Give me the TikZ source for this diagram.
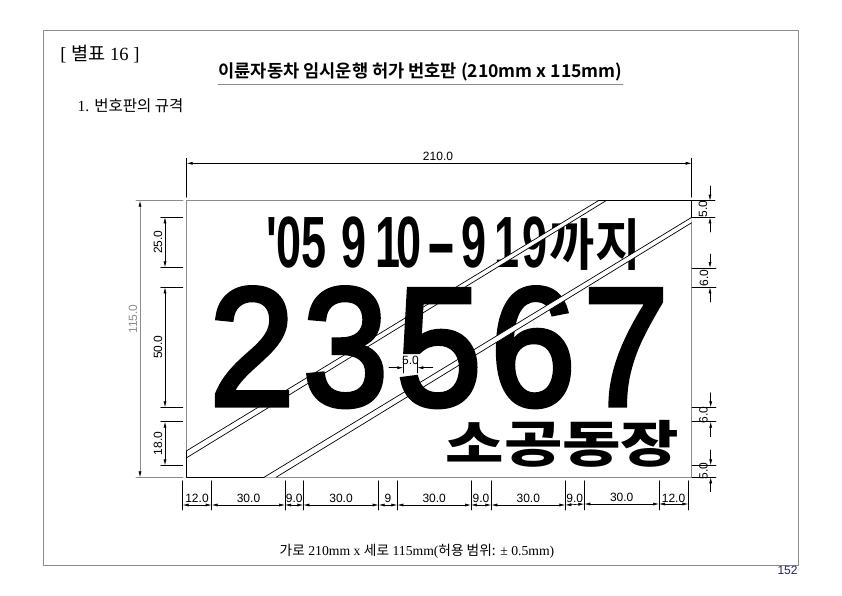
\documentclass[tikz,border=0pt]{standalone}
\usepackage{fontspec}
\usepackage{tkz-euclide}
\usetikzlibrary{arrows.meta,calc}
\setmainfont{Liberation Serif}
\setsansfont{Liberation Sans}
\newfontfamily\krfont{Noto Sans CJK KR}
\newfontfamily\krbold{Noto Sans CJK KR Bold}
\newfontfamily\krblack{Noto Sans CJK KR Black}
\newfontfamily\plate{Liberation Sans Bold}
\newfontfamily\platenum{Liberation Sans}[FakeBold=3]
\definecolor{FrameClr}{gray}{0.55}
\definecolor{NoteClr}{rgb}{0.1,0.15,0.45}
\tikzset{
  dimline/.style={line width=.6pt,color=black,{Latex[length=6pt,width=3pt]}-{Latex[length=6pt,width=3pt]}},
  dimhalf/.style={line width=.6pt,color=black,-{Latex[length=6pt,width=3pt]}},
  extline/.style={line width=.6pt,color=black},
  dimtxt/.style={inner sep=0pt,font=\sffamily\fontsize{12}{12}\selectfont},
  bigdigit/.style={inner sep=0pt,anchor=base,xscale=.91,font=\platenum\fontsize{168.5}{168.5}\selectfont},
}

\begin{document}
\begin{tikzpicture}[x=1pt,y=-1pt]
\useasboundingbox (0,0) rectangle (842,595);
\tkzDefPoints{43/30/F1,798/30/F2,798/565/F3,43/565/F4,218/84/U1,623/84/U2}
\tkzDefPoints{186.7/200.7/P1,691.7/200.7/P2,691.7/477.3/P3,186.7/477.3/P4}
% bands
\tkzDefPoints{186.7/450.7/A1,186.7/457.7/A2,606/200.7/A3,598.3/200.7/A4}
\tkzDefPoints{264/477.3/B1,276/477.3/B2,691.7/222.7/B3,691.7/217.3/B4}

\tkzDrawPolygon[line width=.8pt,color=FrameClr](F1,F2,F3,F4)
\tkzDrawSegment[line width=.6pt,color=FrameClr](U1,U2)

\node (Sheet) at (100,54) {\fontsize{18.6}{18.6}\selectfont [ {\krfont 별표} 16 ]};
\node (Title) at (420.5,72) {\krbold\fontsize{17.6}{17.6}\selectfont 이륜자동차 임시운행 허가 번호판 (210mm x 115mm)};
\node (Head) at (130.5,106) {\fontsize{15.5}{15.5}\selectfont 1. {\krfont 번호판의 규격}};
\node (Foot) at (417,551) {\fontsize{13.7}{13.7}\selectfont {\krfont 가로} 210mm x {\krfont 세로} 115mm({\krfont 허용 범위:} ± 0.5mm)};
\node[inner sep=0pt,text=NoteClr,font=\sffamily\fontsize{12}{12}\selectfont] (Page) at (787.5,570) {152};

% plate
\tkzDrawPolygon[line width=.7pt,color=FrameClr](P1,P2,P3,P4)
\node[inner sep=0pt,anchor=base west] (Small) at (266,267.3) {\plate\fontsize{72.6}{72.6}\selectfont\scalebox{.62}[1]{'05 \hspace{3pt}9 \hspace{-5.5pt}1\hspace{-6pt}0 \hspace{-12.4pt}\scalebox{2}[1]{-} \hspace{-12pt}9 \hspace{-7pt}1\hspace{4.8pt}9}\hspace{2pt}\raisebox{2pt}{\scalebox{.88}[1]{\krbold\fontsize{56}{56}\selectfont 까지}}};
\node[bigdigit] (D6) at (533,405.2) {6};
\tkzFillPolygon[fill=white](A1,A2,A3,A4)
\tkzFillPolygon[fill=white](B1,B2,B3,B4)
\tkzDrawSegments[line width=.7pt,color=black](A1,A4 A2,A3 B1,B4 B2,B3 A4,P2 P2,B4 P4,B1 A1,P4)
\node[bigdigit] (D2) at (252,405.2) {2};
\node[bigdigit] (D3) at (345.5,405.2) {3};
\node[bigdigit] (D5) at (439,405.2) {5};
\node[bigdigit] (D7) at (626,405.2) {7};
\node[inner sep=0pt,xscale=1.27] (Owner) at (562.5,444) {\krblack\fontsize{50}{50}\selectfont 소공동장};

% top and left dimensions
\tkzDefPoints{186.7/158.3/T1,186.7/197.3/T2,691.7/158.3/T3,691.7/197.3/T4,186.7/163.3/T5,691.7/163.3/T6}
\tkzDrawSegments[extline](T1,T2 T3,T4)
\tkzDrawSegment[dimline](T5,T6)
\node[dimtxt] (W) at (438,156) {210.0};

\tkzDefPoints{136/200.7/H1,183/200.7/H2,136/477.3/H3,183/477.3/H4,140/200.7/H5,140/477.3/H6}
\tkzDrawSegments[line width=.6pt,color=FrameClr](H1,H2 H3,H4)
\tkzDrawSegment[line width=.6pt,color=FrameClr,{Latex[length=6pt,width=3pt,black]}-{Latex[length=6pt,width=3pt,black]}](H5,H6)
\node[dimtxt,rotate=90,text=FrameClr] (H) at (133,319) {115.0};

\tkzDefPoints{160.7/217.3/L1,182.7/217.3/L2,160.7/267.3/L3,182.7/267.3/L4,160.7/287.3/L5,182.7/287.3/L6,160.7/407.3/L7,182.7/407.3/L8,160.7/421.7/L9,182.7/421.7/L10,160.7/465.3/L11,182.7/465.3/L12}
\tkzDefPoints{165/217.3/M1,165/267.3/M2,165/287.3/M3,165/407.3/M4,165/421.7/M5,165/465.3/M6}
\tkzDrawSegments[extline](L1,L2 L3,L4 L5,L6 L7,L8 L9,L10 L11,L12)
\tkzDrawSegments[dimline](M1,M2 M3,M4 M5,M6)
\node[dimtxt,rotate=90] (V1) at (158,242) {25.0};
\node[dimtxt,rotate=90] (V2) at (158,347) {50.0};
\node[dimtxt,rotate=90] (V3) at (158,443.5) {18.0};

% right dimensions
\tkzDefPoints{692/200.7/R1,715/200.7/R2,692/217.3/R3,715/217.3/R4,692/268/R5,716/268/R6,692/287.3/R7,716/287.3/R8,692/407.3/R9,716/407.3/R10,692/421.7/R11,716/421.7/R12,692/465.3/R13,716/465.3/R14,692/477.3/R15,716/477.3/R16}
\tkzDrawSegments[extline](R1,R2 R3,R4 R5,R6 R7,R8 R9,R10 R11,R12 R13,R14 R15,R16)
\tkzDefPoints{710/186/S1,710/200.7/S2,710/232/S3,710/217.3/S4,710/254/S5,710/268/S6,710/302/S7,710/287.3/S8,710.7/392.7/S9,710.7/407.3/S10,710.7/436.7/S11,710.7/421.7/S12,710.7/450/S13,710.7/465.3/S14,710.7/491.7/S15,710.7/477.3/S16}
\tkzDrawSegments[dimhalf](S1,S2 S3,S4 S5,S6 S7,S8 S9,S10 S11,S12 S13,S14 S15,S16)
\node[dimtxt,rotate=90] (E1) at (703,209) {5.0};
\node[dimtxt,rotate=90] (E2) at (704,278) {6.0};
\node[dimtxt,rotate=90] (E3) at (703.5,415) {6.0};
\node[dimtxt,rotate=90] (E4) at (703.5,471) {5.0};

% bottom dimensions
\tkzDefPoints{182.7/480.7/B01,182.7/510/C01,211.7/480.7/B02,211.7/510/C02,285/480.7/B03,285/510/C03,303.3/480.7/B04,303.3/510/C04,378.7/480.7/B05,378.7/510/C05,397.3/480.7/B06,397.3/510/C06,471/480.7/B07,471/510/C07,491.3/480.7/B08,491.3/510/C08,565.3/480.7/B09,565.3/510/C09,584.3/480.7/B10,584.3/510/C10,659/480.7/B11,659/510/C11,688.3/480.7/B12,688.3/510/C12}
\tkzDrawSegments[extline](B01,C01 B02,C02 B03,C03 B04,C04 B05,C05 B06,C06 B07,C07 B08,C08 B09,C09 B10,C10 B11,C11 B12,C12)
\tkzDefPoints{182.7/505/D01,211.7/505/D02,285/505/D03,303.3/505/D04,378.7/505/D05,397.3/505/D06,471/505/D07,491.3/505/D08,565.3/505/D09,584.3/504/D10,659/504/D11,688.3/504/D12}
\tkzDrawSegments[dimline](D01,D02 D02,D03 D03,D04 D04,D05 D05,D06 D06,D07 D07,D08 D08,D09 D09,D10 D10,D11 D11,D12)
\node[dimtxt] (G1) at (197,498) {12.0};
\node[dimtxt] (G2) at (248.5,498) {30.0};
\node[dimtxt] (G3) at (294.2,498) {9.0};
\node[dimtxt] (G4) at (341,498) {30.0};
\node[dimtxt] (G5) at (388,498) {9};
\node[dimtxt] (G6) at (434.2,498) {30.0};
\node[dimtxt] (G7) at (481,498) {9.0};
\node[dimtxt] (G8) at (528.3,498) {30.0};
\node[dimtxt] (G9) at (574.8,498) {9.0};
\node[dimtxt] (G10) at (621.7,497) {30.0};
\node[dimtxt] (G11) at (673.5,498) {12.0};

% stroke width
\tkzDefPoints{403.3/360/N1,403.3/373/N2,417.3/360/N3,417.3/373/N4,389/367.7/N5,403.3/367.7/N6,432.7/367.7/N7,417.3/367.7/N8}
\tkzDrawSegments[extline](N1,N2 N3,N4)
\tkzDrawSegments[dimhalf](N5,N6 N7,N8)
\node[dimtxt] (K) at (410.5,360.5) {5.0};
\end{tikzpicture}
\end{document}
